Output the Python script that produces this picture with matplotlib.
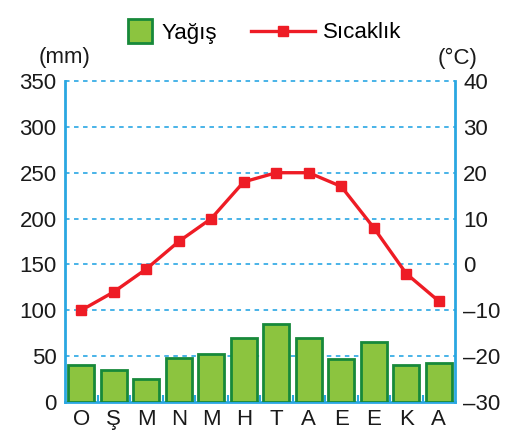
import matplotlib
matplotlib.use("Agg")
import matplotlib.pyplot as plt
from matplotlib.lines import Line2D

plt.rcParams['font.family'] = ['Liberation Sans', 'DejaVu Sans']

months = ["O", "Ş", "M", "N", "M", "H", "T", "A", "E", "E", "K", "A"]
precip = [40, 35, 25, 48, 52, 70, 85, 70, 47, 65, 40, 42]
temp = [-10, -6, -1, 5, 10, 18, 20, 20, 17, 8, -2, -8]
left_ticks = [0, 50, 100, 150, 200, 250, 300, 350]
right_ticks = [-30, -20, -10, 0, 10, 20, 30, 40]

blue = "#2aa7e1"
grid_blue = "#3aaee6"
bar_face = "#8cc43f"
bar_edge = "#17893a"
red = "#ee1c25"
txt = "#1a1a1a"
fs = 16

fig = plt.figure(figsize=(5.31, 4.42), dpi=100)
ax = fig.add_axes([65/531, 1-402/442, 390/531, 321/442])
x = list(range(len(months)))

ax.set_xlim(-0.5, len(months) - 0.5)
ax.set_ylim(0, 350)
for t in left_ticks[1:]:
    ax.axhline(t, color=grid_blue, lw=1.3, ls=(0, (2.5, 2.5)), zorder=1, clip_on=False)

ax.bar(x, precip, width=0.8, color=bar_face, edgecolor=bar_edge, linewidth=2, zorder=3)

ax2 = ax.twinx()
ax2.set_ylim(-30, 40)
ax2.plot(x, temp, color=red, lw=2.4, marker="s", markersize=7.5, zorder=5)

for a in (ax, ax2):
    a.spines['top'].set_visible(False)
    for s in ('left', 'right', 'bottom'):
        a.spines[s].set_color(blue)
        a.spines[s].set_linewidth(2)
ax.spines['right'].set_visible(False)
ax2.spines['left'].set_visible(False)
ax2.spines['bottom'].set_visible(False)

ax.set_yticks(left_ticks)
ax.set_yticklabels([str(v) for v in left_ticks])
ax.tick_params(axis='y', length=0, labelsize=fs, pad=6, colors=txt)
ax2.set_yticks(right_ticks)
ax2.set_yticklabels([("\u2013" + str(-v)) if v < 0 else str(v) for v in right_ticks])
ax2.tick_params(axis='y', length=0, labelsize=fs, pad=6, colors=txt)

ax.set_xticks(x)
ax.set_xticklabels(months)
ax.tick_params(axis='x', length=0, labelsize=fs, pad=5, colors=txt)
ax.set_xticks([i + 0.5 for i in x[:-1]], minor=True)
ax.tick_params(axis='x', which='minor', direction='in', length=5, width=1.5, color=blue)

fig.text(65/531, 1-58/442, "(mm)", ha='center', va='center', fontsize=fs, color=txt)
fig.text(458/531, 1-58/442, "(°C)", ha='center', va='center', fontsize=fs, color=txt)

h1 = Line2D([0], [0], ls='none', marker='s', markersize=17,
            markerfacecolor=bar_face, markeredgecolor=bar_edge, markeredgewidth=2)
h2 = Line2D([0], [0], color=red, lw=2.4, marker="s", markersize=7.5)
leg1 = fig.legend([h1], ["Yağış"], loc='center left', bbox_to_anchor=(127/531, 1-33/442),
                  frameon=False, fontsize=fs, handlelength=1.15, handletextpad=0.4,
                  borderpad=0, borderaxespad=0)
leg2 = fig.legend([h2], ["Sıcaklık"], loc='center left', bbox_to_anchor=(251/531, 1-33/442),
                  frameon=False, fontsize=fs, handlelength=2.9, handletextpad=0.35,
                  borderpad=0, borderaxespad=0)

fig.savefig("out.png", dpi=100)
